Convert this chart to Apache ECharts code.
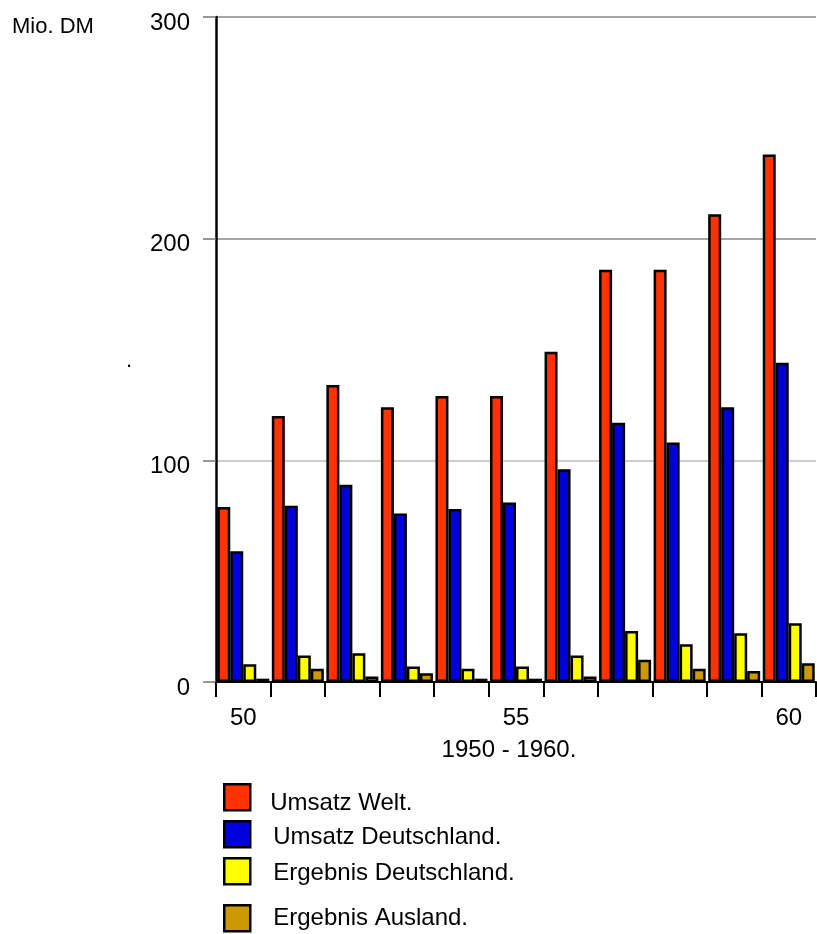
<!DOCTYPE html>
<html>
<head>
<meta charset="utf-8">
<script src="https://cdn.jsdelivr.net/npm/echarts@6/dist/echarts.min.js"></script>
<style>
  html, body { margin: 0; padding: 0; background: #fff; }
  #chart { width: 817px; height: 934px; }
</style>
</head>
<body>
<div id="chart"></div>
<script>
// Jahre 1950 - 1960 (Kurzform)
var years = ['50', '51', '52', '53', '54', '55', '56', '57', '58', '59', '60'];

// Werte in Mio. DM
var umsatzWelt          = [79, 120, 134, 124, 129, 129, 149, 186, 186, 211, 238];
var umsatzDeutschland   = [59, 79.5, 89, 76, 78, 81, 96, 117, 108, 124, 144];
var ergebnisDeutschland = [8, 12, 13, 7, 6, 7, 12, 23, 17, 22, 26.5];
var ergebnisAusland     = [1.5, 6, 2.5, 4, 1.5, 1.5, 2.5, 10, 6, 5, 8.5];

var yTicks = [0, 100, 200, 300];

var FONT = "'Liberation Sans', Arial, sans-serif";

var seriesDefs = [
  { name: 'Umsatz Welt.',          data: umsatzWelt,          color: '#FF3300' },
  { name: 'Umsatz Deutschland.',   data: umsatzDeutschland,   color: '#0000DD' },
  { name: 'Ergebnis Deutschland.', data: ergebnisDeutschland, color: '#FFFF00' },
  { name: 'Ergebnis Ausland.',     data: ergebnisAusland,     color: '#CC9900' }
];

// legend rows: square top, gap between square and text, downward text shift (x2)
var legendTops = [778, 815, 852, 899];
var legendGaps = [20, 23, 23, 23];
var legendTextDrop = [12, 6, 4, 0];

var chart = echarts.init(document.getElementById('chart'), null, { renderer: 'canvas' });

chart.setOption({
  animation: false,
  backgroundColor: '#fff',
  textStyle: { fontFamily: FONT },
  title: {
    text: 'Mio. DM',
    left: 7,
    top: 11,
    textStyle: { fontFamily: FONT, fontSize: 22, fontWeight: 'normal', color: '#000' }
  },
  graphic: [
    { type: 'text', left: 126, top: 350, style: { text: '.', font: '22px ' + FONT, fill: '#000' } }
  ],
  legend: seriesDefs.map(function (s, i) {
    return {
      data: [s.name],
      orient: 'vertical',
      left: 218,
      top: legendTops[i],
      itemWidth: 26,
      itemHeight: 26,
      itemGap: 0,
      icon: 'rect',
      itemStyle: { borderColor: '#000', borderWidth: 2.5 },
      selectedMode: false,
      formatter: '{t|{name}}',
      textStyle: {
        fontFamily: FONT, fontSize: 24, color: '#000',
        rich: {
          t: {
            fontFamily: FONT, fontSize: 24, color: '#000',
            padding: [legendTextDrop[i], 0, 0, legendGaps[i] - 5]
          }
        }
      }
    };
  }),
  grid: { left: 216, right: 1, top: 17, bottom: 252, containLabel: false },
  xAxis: {
    type: 'category',
    data: years,
    name: '1950 - 1960.',
    nameLocation: 'middle',
    nameGap: 56,
    nameTextStyle: { fontFamily: FONT, fontSize: 24, color: '#000', padding: [0, 14, 0, 0] },
    axisLine: { lineStyle: { color: '#000', width: 2 } },
    axisTick: { show: true, interval: 0, length: 15, lineStyle: { color: '#000', width: 2 } },
    axisLabel: { interval: 4, margin: 24, fontFamily: FONT, fontSize: 24, color: '#000' },
    splitLine: { show: false }
  },
  yAxis: {
    type: 'value',
    min: yTicks[0],
    max: yTicks[yTicks.length - 1],
    interval: yTicks[1] - yTicks[0],
    axisLine: { show: true, lineStyle: { color: '#000', width: 2.5 } },
    axisTick: { show: true, length: 13, lineStyle: { color: '#777', width: 1.5 } },
    axisLabel: {
      margin: 26, fontFamily: FONT, fontSize: 24, color: '#000',
      verticalAlign: 'top', lineHeight: 12
    },
    splitLine: { show: true, lineStyle: { color: ['#bbb', '#bbb', '#888', '#888'], width: 1.5 } }
  },
  series: seriesDefs.map(function (s) {
    return {
      name: s.name,
      type: 'bar',
      data: s.data,
      barWidth: 13,
      barGap: '0%',
      itemStyle: { color: s.color, borderColor: '#000', borderWidth: 2.5 }
    };
  })
});
</script>
</body>
</html>
